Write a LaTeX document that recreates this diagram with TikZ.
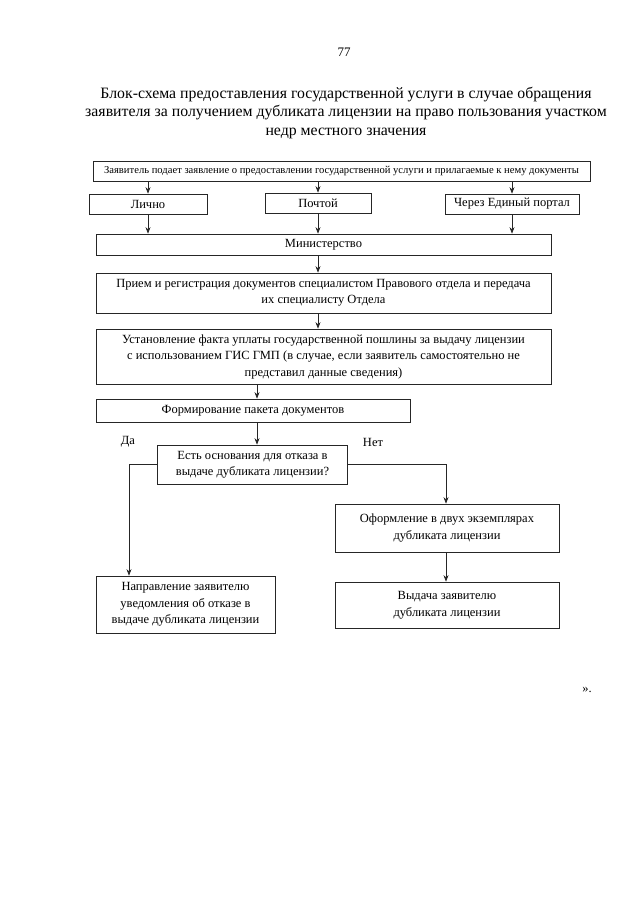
\documentclass[tikz,border=0pt]{standalone}
\usepackage{fontspec}
\setmainfont{Liberation Serif}
\usetikzlibrary{arrows.meta}
\begin{document}
\begin{tikzpicture}[x=1pt,y=-1pt,
  box/.style={draw=black!85, line width=0.7pt, rectangle, inner sep=0pt, align=center, font=\fontsize{12.5}{16.5}\selectfont},
  arr/.style={draw=black!85, line width=0.7pt, -{Stealth[length=6.5pt,width=5pt]}},
  ln/.style={draw=black!85, line width=0.7pt},
  lbl/.style={font=\fontsize{12.5}{15}\selectfont, inner sep=0pt}]
\useasboundingbox[fill=white] (0,0) rectangle (640,905);

\node[inner sep=0pt, font=\fontsize{13}{15}\selectfont] (pg) at (344,52) {77};
\node[inner sep=0pt, align=center, font=\fontsize{15.8}{18.5}\selectfont] (title) at (346,113)
  {Блок-схема предоставления государственной услуги в случае обращения\\
   заявителя за получением дубликата лицензии на право пользования участком\\
   недр местного значения};

\node[box, minimum width=497, minimum height=20, font=\fontsize{10.6}{12}\selectfont] (b0) at (341.5,171)
  {Заявитель подает заявление о предоставлении государственной услуги и прилагаемые к нему документы};

\node[box, minimum width=118, minimum height=20] (lichno) at (148,204) {Лично};
\node[box, minimum width=106, minimum height=20] (pochta) at (318,203) {Почтой};
\node[box, minimum width=134, minimum height=20] (portal) at (512,204) {Через Единый портал};

\node[box, minimum width=455, minimum height=21] (min) at (323.5,244.5) {Министерство};
\node[box, minimum width=455, minimum height=40] (priem) at (323.5,293)
  {Прием и регистрация документов специалистом Правового отдела и передача\\ их специалисту Отдела};
\node[box, minimum width=455, minimum height=55] (ust) at (323.5,356.5)
  {Установление факта уплаты государственной пошлины за выдачу лицензии\\
   с использованием ГИС ГМП (в случае, если заявитель самостоятельно не\\
   представил данные сведения)};
\node[box, minimum width=314, minimum height=23] (form) at (253,410.5) {Формирование пакета документов};
\node[box, minimum width=190, minimum height=39] (est) at (252.5,464.5)
  {Есть основания для отказа в\\ выдаче дубликата лицензии?};
\node[box, minimum width=179, minimum height=57] (napr) at (185.5,604.5)
  {Направление заявителю\\ уведомления об отказе в\\ выдаче дубликата лицензии};
\node[box, minimum width=224, minimum height=48] (oform) at (447,528)
  {Оформление в двух экземплярах\\ дубликата лицензии};
\node[box, minimum width=224, minimum height=46] (vyd) at (447,605)
  {Выдача заявителю\\ дубликата лицензии};

\node[lbl] (da) at (128,442) {Да};
\node[lbl] (net) at (373,442) {Нет};
\node[lbl] (quote) at (587,690) {».};

\coordinate (xa) at (257,0);
\coordinate (la) at (129,0);
\coordinate (ra) at (446,0);

\draw[arr] (b0.south -| lichno) -- (lichno.north);
\draw[arr] (b0.south -| pochta) -- (pochta.north);
\draw[arr] (b0.south -| portal) -- (portal.north);
\draw[arr] (lichno.south) -- (lichno.south |- min.north);
\draw[arr] (pochta.south) -- (pochta.south |- min.north);
\draw[arr] (portal.south) -- (portal.south |- min.north);
\draw[arr] (min.south -| pochta) -- (priem.north -| pochta);
\draw[arr] (priem.south -| pochta) -- (ust.north -| pochta);
\draw[arr] (ust.south -| xa) -- (form.north -| xa);
\draw[arr] (form.south -| xa) -- (est.north -| xa);
\draw[arr] (est.west) -| (napr.north -| la);
\draw[arr] (est.east) -| (oform.north -| ra);
\draw[arr] (oform.south -| ra) -- (vyd.north -| ra);
\end{tikzpicture}
\end{document}
